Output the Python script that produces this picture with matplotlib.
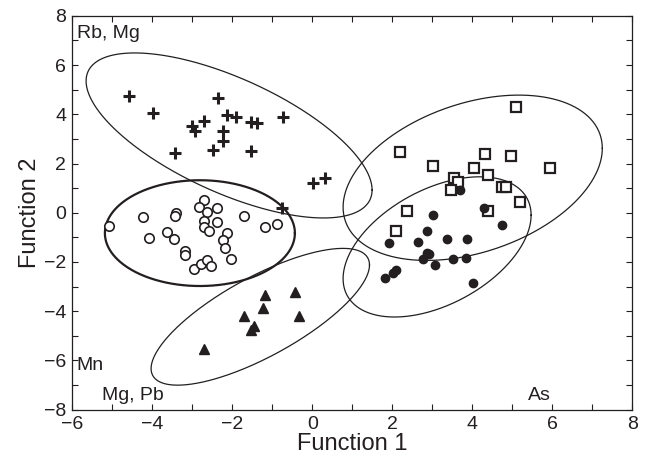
import numpy as np
import matplotlib
matplotlib.use('Agg')
import matplotlib.pyplot as plt
import matplotlib.ticker as ticker

plt.rcParams['font.family'] = ['Liberation Sans', 'DejaVu Sans']

# group points (Function 1, Function 2)
plus_x = [-4.58, -3.98, -3.43, -3.01, -2.93, -2.71, -2.36, -2.47, -2.23, -2.23,
          -2.14, -1.91, -1.54, -1.39, -1.53, -0.73, 0.01, 0.32, -0.76]
plus_y = [4.74, 4.04, 2.41, 3.52, 3.32, 3.74, 4.67, 2.55, 3.33, 2.93,
          3.96, 3.90, 3.70, 3.63, 2.52, 3.88, 1.22, 1.40, 0.20]

circ_x = [-5.08, -4.24, -4.07, -3.62, -3.46, -3.41, -3.43, -3.17, -3.18, -2.96,
          -2.78, -2.62, -2.54, -2.71, -2.83, -2.62, -2.39, -2.71, -2.71, -2.59,
          -2.37, -2.14, -2.24, -2.17, -2.02, -1.71, -1.17, -0.88]
circ_y = [-0.53, -0.16, -1.02, -0.80, -1.06, -0.03, -0.13, -1.54, -1.72, -2.30,
          -2.09, -1.92, -2.17, 0.52, 0.24, 0.03, 0.19, -0.35, -0.59, -0.73,
          -0.38, -0.84, -1.11, -1.42, -1.88, -0.13, -0.59, -0.47]

tri_x = [-1.19, -0.42, -1.22, -1.70, -0.34, -1.45, -1.52, -2.70]
tri_y = [-3.35, -3.24, -3.86, -4.20, -4.20, -4.61, -4.77, -5.55]

sq_x = [5.08, 2.19, 3.01, 4.31, 4.96, 5.95, 4.04, 4.40, 3.55, 3.64,
        3.46, 4.73, 4.84, 5.19, 4.38, 2.36, 2.09]
sq_y = [4.31, 2.48, 1.91, 2.37, 2.32, 1.83, 1.83, 1.53, 1.42, 1.26,
        0.92, 1.06, 1.06, 0.42, 0.08, 0.08, -0.74]

dot_x = [3.70, 4.28, 3.02, 4.74, 2.88, 3.36, 3.87, 1.93, 2.64, 2.87,
         2.93, 2.76, 3.53, 3.84, 3.06, 2.09, 2.03, 1.81, 4.03]
dot_y = [0.92, 0.20, -0.11, -0.49, -0.74, -1.06, -1.06, -1.24, -1.20, -1.63,
         -1.68, -1.87, -1.88, -1.85, -2.11, -2.34, -2.45, -2.65, -2.85]

# group ellipses: centre x, centre y, half extent x, half extent y, correlation
ell_cx = [-2.08, -2.81, -1.30, 4.01, 3.12]
ell_cy = [3.14, -0.83, -4.23, 1.42, -1.39]
ell_wx = [3.575, 2.375, 2.73, 3.24, 2.35]
ell_wy = [3.354, 2.15, 2.78, 3.36, 2.85]
ell_rho = [-0.660, 0.0, 0.757, 0.356, 0.453]
ell_lw = [0.9, 1.6, 0.9, 0.9, 0.9]

labels = ['Rb, Mg', 'Mn', 'Mg, Pb', 'As']
label_x = [-5.88, -5.9, -5.25, 5.4]
label_y = [7.3, -6.2, -7.42, -7.42]

ink = '#231f20'

fig = plt.figure(figsize=(6.46, 4.62), dpi=100)
ax = fig.add_axes([0.1119, 0.1136, 0.8669, 0.852])

t = np.linspace(0, 2 * np.pi, 400)
for cx, cy, wx, wy, r, lw in zip(ell_cx, ell_cy, ell_wx, ell_wy, ell_rho, ell_lw):
    cov = np.array([[wx * wx, r * wx * wy], [r * wx * wy, wy * wy]])
    L = np.linalg.cholesky(cov)
    pts = L @ np.vstack([np.cos(t), np.sin(t)])
    ax.plot(cx + pts[0], cy + pts[1], color=ink, lw=lw)

ax.plot(plus_x, plus_y, '+', ms=8.5, mew=2.2, color=ink, ls='none')
ax.plot(circ_x, circ_y, 'o', ms=6.8, mew=1.2, mfc='white', mec=ink, ls='none')
ax.plot(tri_x, tri_y, '^', ms=7, color=ink, ls='none')
ax.plot(sq_x, sq_y, 's', ms=7, mew=1.6, mfc='white', mec=ink, ls='none')
ax.plot(dot_x, dot_y, 'o', ms=6, color=ink, ls='none')

for s, x, y in zip(labels, label_x, label_y):
    ax.text(x, y, s, fontsize=14, color=ink, va='center', ha='left')

ax.set_xlim(-6, 8)
ax.set_ylim(-8, 8)
ax.xaxis.set_major_locator(ticker.MultipleLocator(2))
ax.xaxis.set_minor_locator(ticker.MultipleLocator(1))
ax.yaxis.set_major_locator(ticker.MultipleLocator(2))
ax.yaxis.set_minor_locator(ticker.MultipleLocator(1))
ax.tick_params(which='both', direction='in', top=True, right=True,
               length=4, width=0.8, color=ink)
ax.tick_params(which='major', labelsize=14, labelcolor=ink, pad=4.5)
for sp in ax.spines.values():
    sp.set_linewidth(0.9)
    sp.set_color(ink)

ax.set_xlabel('Function 1', fontsize=17, color=ink, labelpad=0)
ax.set_ylabel('Function 2', fontsize=17, color=ink, labelpad=2)

plt.savefig('out.png', dpi=100)
